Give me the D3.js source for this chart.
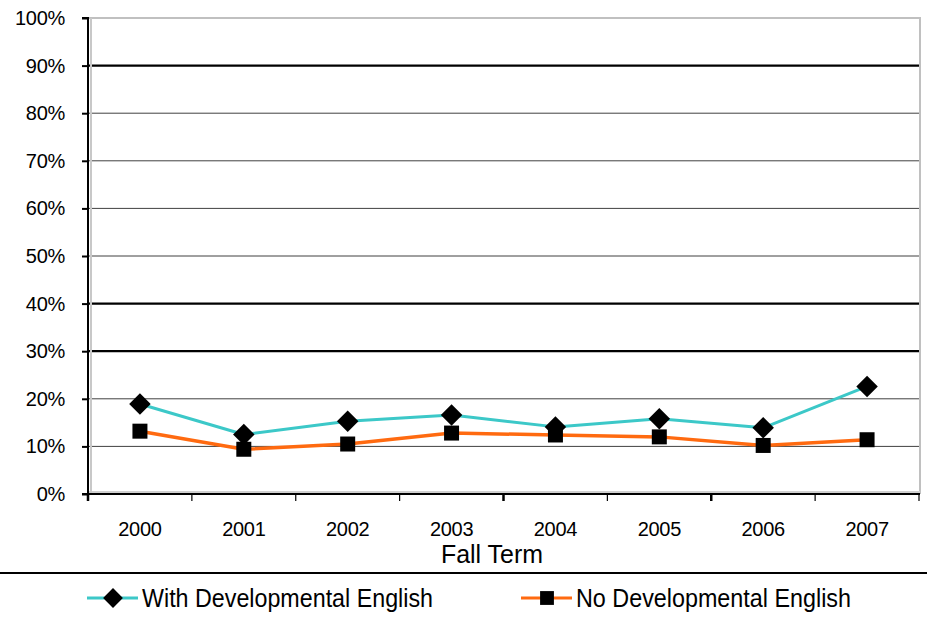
<!DOCTYPE html>
<html lang="en">
<head>
<meta charset="UTF-8">
<title>Fall Term</title>
<style>
  body { margin: 0; background: #fff; }
  svg { display: block; }
</style>
</head>
<body>
<script src="https://cdn.jsdelivr.net/npm/d3@7"></script>
<script>
  var years = ["2000", "2001", "2002", "2003", "2004", "2005", "2006", "2007"];
  var withDev = [18.9, 12.5, 15.3, 16.6, 14.1, 15.8, 13.9, 22.6];
  var noDev = [13.2, 9.4, 10.5, 12.8, 12.4, 12.0, 10.2, 11.4];
  var yTicks = [0, 10, 20, 30, 40, 50, 60, 70, 80, 90, 100];
  var boldLines = [30, 40, 90];

  var width = 927, height = 618;
  var plotLeft = 88, plotRight = 919, plotTop = 18, plotBottom = 494;

  var svg = d3.select("body").append("svg")
    .attr("width", width)
    .attr("height", height);

  var x = d3.scaleBand().domain(years).range([plotLeft, plotRight]);
  var y = d3.scaleLinear().domain([0, 100]).range([plotBottom, plotTop]);

  // square diamond (rotated square), like Excel's marker
  var diamond = {
    draw: function (context, size) {
      var r = Math.sqrt(size / 2);
      context.moveTo(0, -r);
      context.lineTo(r, 0);
      context.lineTo(0, r);
      context.lineTo(-r, 0);
      context.closePath();
    }
  };

  // grid lines
  svg.selectAll("line.grid")
    .data(yTicks.filter(function (d) { return d > 0 && d < 100; }))
    .enter().append("line")
    .attr("x1", plotLeft).attr("x2", plotRight)
    .attr("y1", function (d) { return y(d); })
    .attr("y2", function (d) { return y(d); })
    .attr("stroke", function (d) { return boldLines.indexOf(d) >= 0 ? "#000" : "#404040"; })
    .attr("stroke-width", function (d) { return boldLines.indexOf(d) >= 0 ? 2.2 : 1; });

  // plot border (top, right) light gray
  svg.append("path")
    .attr("d", "M" + plotLeft + "," + y(100) + "H" + (plotRight + 1) + "V" + plotBottom)
    .attr("fill", "none")
    .attr("stroke", "#c0c0c0")
    .attr("stroke-width", 2);

  // inner shadow lines
  svg.append("line")
    .attr("x1", plotLeft).attr("x2", plotRight + 1)
    .attr("y1", plotBottom - 2).attr("y2", plotBottom - 2)
    .attr("stroke", "#d0d0d0").attr("stroke-width", 2);
  svg.append("line")
    .attr("x1", plotLeft + 3).attr("x2", plotLeft + 3)
    .attr("y1", plotTop).attr("y2", plotBottom)
    .attr("stroke", "#c8c8c8").attr("stroke-width", 2);

  // y axis
  var yAxis = d3.axisLeft(y)
    .tickValues(yTicks)
    .tickSize(6)
    .tickPadding(17)
    .tickFormat(function (d) { return d + "%"; });
  var gy = svg.append("g")
    .attr("transform", "translate(" + plotLeft + ",0)")
    .call(yAxis);
  gy.select(".domain").attr("stroke", "#000").attr("stroke-width", 2)
    .attr("d", "M-6," + plotTop + "H0V" + plotBottom + "H-6");
  gy.selectAll(".tick line").attr("stroke", "#000").attr("stroke-width", 2);
  gy.selectAll("text")
    .attr("font-family", "Liberation Sans, Arial, sans-serif")
    .attr("font-size", 20)
    .attr("letter-spacing", -0.3)
    .attr("fill", "#000");

  // x axis
  var xAxis = d3.axisBottom(x).tickSize(0).tickPadding(28);
  var gx = svg.append("g")
    .attr("transform", "translate(0," + plotBottom + ")")
    .call(xAxis);
  gx.select(".domain").attr("stroke", "#000").attr("stroke-width", 2)
    .attr("d", "M" + plotLeft + ",0H" + (plotRight + 1));
  gx.selectAll("text")
    .attr("font-family", "Liberation Sans, Arial, sans-serif")
    .attr("font-size", 20)
    .attr("letter-spacing", -0.3)
    .attr("fill", "#000");
  // x ticks at band boundaries
  var bounds = years.map(function (d) { return x(d); }).concat([plotRight]);
  gx.selectAll("line.bound")
    .data(bounds)
    .enter().append("line")
    .attr("x1", function (d) { return d; })
    .attr("x2", function (d) { return d; })
    .attr("y1", 0).attr("y2", 7)
    .attr("stroke", "#000")
    .attr("stroke-width", function (d, i) { return (i === 4 || i === 6 || i === 0) ? 2.5 : 1.2; });

  svg.append("text")
    .attr("x", 492)
    .attr("y", 563)
    .attr("text-anchor", "middle")
    .attr("font-family", "Liberation Sans Narrow, Arial Narrow, sans-serif")
    .attr("font-size", 25)
    .attr("textLength", 102)
    .attr("lengthAdjust", "spacingAndGlyphs")
    .text("Fall Term");

  // separator line
  svg.append("line")
    .attr("x1", 0).attr("x2", width)
    .attr("y1", 573).attr("y2", 573)
    .attr("stroke", "#000").attr("stroke-width", 2);

  var series = [
    { name: "With Developmental English", values: withDev, color: "#3cc8c8", width: 3, symbol: diamond, size: 230, textLen: 291 },
    { name: "No Developmental English", values: noDev, color: "#ff6a10", width: 3.5, symbol: d3.symbolSquare, size: 225, textLen: 275 }
  ];

  var line = d3.line()
    .x(function (d, i) { return x(years[i]) + x.bandwidth() / 2; })
    .y(function (d) { return y(d); });

  series.forEach(function (s) {
    svg.append("path")
      .datum(s.values)
      .attr("fill", "none")
      .attr("stroke", s.color)
      .attr("stroke-width", s.width)
      .attr("stroke-linejoin", "round")
      .attr("d", line);
  });
  series.forEach(function (s) {
    svg.selectAll(null)
      .data(s.values)
      .enter().append("path")
      .attr("transform", function (d, i) {
        return "translate(" + (x(years[i]) + x.bandwidth() / 2) + "," + y(d) + ")";
      })
      .attr("d", d3.symbol().type(s.symbol).size(s.size))
      .attr("fill", "#000");
  });

  // legend
  var legendX = [87, 521];
  var legend = svg.selectAll("g.legend")
    .data(series)
    .enter().append("g")
    .attr("transform", function (d, i) { return "translate(" + legendX[i] + ",598)"; });
  legend.append("line")
    .attr("x1", 0).attr("x2", 51)
    .attr("y1", 0).attr("y2", 0)
    .attr("stroke", function (d) { return d.color; })
    .attr("stroke-width", 3);
  legend.append("path")
    .attr("transform", "translate(26,0)")
    .attr("d", function (d) { return d3.symbol().type(d.symbol).size(d.size * 0.85)(); })
    .attr("fill", "#000");
  legend.append("text")
    .attr("x", 55)
    .attr("y", 9)
    .attr("font-family", "Liberation Sans Narrow, Arial Narrow, sans-serif")
    .attr("font-size", 25)
    .attr("textLength", function (d) { return d.textLen; })
    .attr("lengthAdjust", "spacingAndGlyphs")
    .text(function (d) { return d.name; });
</script>
</body>
</html>
